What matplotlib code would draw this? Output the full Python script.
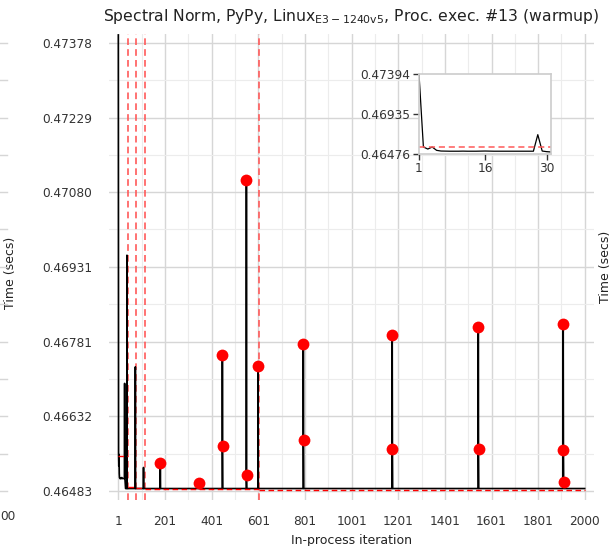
import numpy as np
import matplotlib
matplotlib.use("Agg")
import matplotlib.pyplot as plt
import matplotlib.transforms as mtransforms

# Iteration count and the first 31 iterations (warmup)
n_iters = 2000
warmup_times = [0.47394, 0.46556, 0.46533, 0.46556, 0.46518, 0.46510, 0.46509,
                0.46508, 0.46508, 0.46508, 0.46509, 0.46508, 0.46508, 0.46508,
                0.46509, 0.46510, 0.46509, 0.46508, 0.46508, 0.46508, 0.46508,
                0.46508, 0.46508, 0.46508, 0.46508, 0.46508, 0.46508, 0.46698,
                0.46510, 0.46503, 0.46499]
baseline_time = 0.46488

# Spikes after the warmup (iteration, time)
spike_iters = [38, 74, 109, 181, 348, 447, 448, 550, 551, 600,
               794, 795, 1175, 1176, 1544, 1545, 1908, 1909, 1910]
spike_times = [0.46954, 0.46731, 0.46530, 0.46539, 0.46499, 0.46755, 0.46573,
               0.47104, 0.46515, 0.46733, 0.46777, 0.46585, 0.46795, 0.46567,
               0.46811, 0.46567, 0.46817, 0.46565, 0.46501]

# Outliers shown as red dots
outlier_iters = [181, 348, 447, 448, 550, 551, 600, 794, 795,
                 1175, 1176, 1544, 1545, 1908, 1909, 1910]

# Changepoints and segment means
changepoints = [41, 75, 115, 603]
segment_means = [0.46552, 0.46492, 0.46490, 0.46487, 0.46486]

ytick_labels = ["0.46483", "0.46632", "0.46781", "0.46931", "0.47080", "0.47229", "0.47378"]
xtick_vals = [1, 201, 401, 601, 801, 1001, 1201, 1401, 1601, 1801, 2000]

inset_n = 31
inset_yticks = ["0.46476", "0.46935", "0.47394"]
inset_xticks = [1, 16, 30]

iters = np.arange(1, n_iters + 1)
times = np.full(n_iters, baseline_time)
times[:len(warmup_times)] = warmup_times
times[np.array(spike_iters) - 1] = spike_times

title = r"Spectral Norm, PyPy, Linux$_{\mathregular{E3-1240v5}}$, Proc. exec. #13 (warmup)"

plt.rcParams['font.family'] = ['DejaVu Sans']
fig = plt.figure(figsize=(6.16, 5.46), dpi=100)
ax = fig.add_axes([109 / 616, 1 - 500 / 546, 485 / 616, 466 / 546])

grid_major = '#d6d6d6'
grid_minor = '#ececec'
red = '#ff0000'
red_dash = '#ff5a5a'

yt = [float(v) for v in ytick_labels]
yrange = yt[-1] - yt[0]
ax.set_ylim(yt[0] - 0.02 * yrange, yt[-1] + 0.02 * yrange)
xrange_ = xtick_vals[-1] - xtick_vals[0]
ax.set_xlim(xtick_vals[0] - 0.02 * xrange_, xtick_vals[-1] + 0.02 * xrange_)

ax.set_yticks(yt)
ax.set_yticklabels(ytick_labels)
ax.set_xticks(xtick_vals)
ax.set_xticks([(a + b) / 2 for a, b in zip(xtick_vals[:-1], xtick_vals[1:])], minor=True)
ax.set_yticks([(a + b) / 2 for a, b in zip(yt[:-1], yt[1:])], minor=True)
ax.grid(True, which='major', color=grid_major, linewidth=1.0)
ax.grid(True, which='minor', color=grid_minor, linewidth=0.8)
ax.set_axisbelow(True)
for s in ax.spines.values():
    s.set_visible(False)
ax.tick_params(which='both', length=0)
ax.tick_params(axis='y', pad=12, labelsize=8.7, colors='#333333')
ax.tick_params(axis='x', pad=11, labelsize=8.7, colors='#333333')

# changepoints
for cp in changepoints:
    ax.axvline(cp, color=red_dash, linewidth=1.2, linestyle=(0, (4, 2.5)), zorder=2)

ax.plot(iters, times, color='black', linewidth=1.2, zorder=3)

# segment means
bounds = [1] + changepoints + [n_iters]
for i, m in enumerate(segment_means):
    ax.plot([bounds[i], bounds[i + 1]], [m, m], color=red, linewidth=1.0,
            linestyle=(0, (4, 2.5)), zorder=4)

ax.plot(outlier_iters, times[np.array(outlier_iters) - 1], 'o', color=red,
        markersize=8.5, markeredgewidth=0, zorder=5)

ax.set_xlabel("In-process iteration", fontsize=9, color='#222222', labelpad=4)
ax.set_ylabel("Time (secs)", fontsize=9, color='#222222')
ax.yaxis.set_label_coords(17 / 616, 0.5, transform=fig.transFigure)
fig.text(351 / 616, 1 - 17 / 546, title, ha='center', va='center', fontsize=11.25, color='#222222')

# neighbouring panels, partly visible at the figure edges
fig.text(605 / 616, 0.5 * (1 - 500 / 546) + 0.5 * (1 - 34 / 546), "Time (secs)", rotation=90,
         ha='center', va='center', fontsize=9, color='#222222')
fig.text(0.5 / 616, 1 - 517 / 546, "00", ha='left', va='center', fontsize=8.7, color='#333333')
blend = mtransforms.blended_transform_factory(fig.transFigure, ax.transData)
for v in yt + [(a + b) / 2 for a, b in zip(yt[:-1], yt[1:])]:
    ln = plt.Line2D([0, 7 / 616], [v, v], transform=blend, color=grid_major, linewidth=1.0)
    fig.add_artist(ln)

# inset with the first iterations
axi = fig.add_axes([419 / 616, 1 - 154 / 546, 132 / 616, 80 / 546])
iy = [float(v) for v in inset_yticks]
axi.plot(iters[:inset_n], times[:inset_n], color='black', linewidth=0.9)
axi.axhline(segment_means[0], color=red_dash, linewidth=1.1, linestyle=(0, (4, 2.5)))
axi.set_xlim(1, inset_n)
axi.set_ylim(iy[0], iy[-1])
axi.set_yticks(iy)
axi.set_yticklabels(inset_yticks)
axi.set_xticks(inset_xticks)
for s in axi.spines.values():
    s.set_color('#cccccc')
    s.set_linewidth(1.2)
axi.tick_params(length=4, width=1, color='#333333', labelsize=8.7, labelcolor='#333333', pad=2)

fig.savefig("out.png", dpi=100)
